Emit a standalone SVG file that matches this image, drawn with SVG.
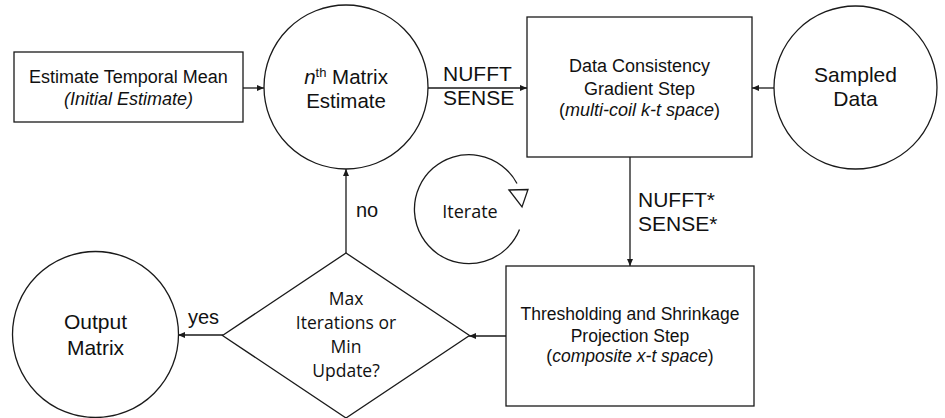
<svg xmlns="http://www.w3.org/2000/svg" width="945" height="418" viewBox="0 0 945 418">
<style>
.s{fill:#fff;stroke:#1a1a1a;stroke-width:1.3}
.c{fill:none;stroke:#1a1a1a;stroke-width:1.3}
text{font-family:"Liberation Sans",Arial,Helvetica,sans-serif;fill:#111}
.m{text-anchor:middle}
.o{font-family:"Open Sans","Noto Sans",sans-serif}
.i{font-style:italic}
</style>
<defs>
<marker id="ah" markerWidth="8" markerHeight="6" refX="7" refY="3" orient="auto" markerUnits="userSpaceOnUse">
<path d="M0,0 L7,3 L0,6 Z" fill="#1a1a1a"/>
</marker>
</defs>
<g id="connectors">
<path class="c" d="M243,88 L264,88" marker-end="url(#ah)"/>
<path class="c" d="M428,88 L527,88" marker-end="url(#ah)"/>
<path class="c" d="M774,88 L752,88" marker-end="url(#ah)"/>
<path class="c" d="M630,157 L630,266" marker-end="url(#ah)"/>
<path class="c" d="M506,336 L469,336" marker-end="url(#ah)"/>
<path class="c" d="M223,335 L178,335" marker-end="url(#ah)"/>
<path class="c" d="M346,253 L346,169" marker-end="url(#ah)"/>
<text x="443" y="81" font-size="21">NUFFT</text>
<text x="443" y="105" font-size="21">SENSE</text>
<text x="638" y="207" font-size="21">NUFFT*</text>
<text x="638" y="231" font-size="21">SENSE*</text>
<text x="356" y="217" font-size="20">no</text>
<text x="188" y="324" font-size="20">yes</text>
</g>
<g id="estimate-mean">
<rect class="s" x="14" y="52" width="229" height="70"/>
<text class="m" x="128.5" y="83" font-size="18">Estimate Temporal Mean</text>
<text class="m i" x="128.5" y="104.5" font-size="18">(Initial Estimate)</text>
</g>
<g id="nth-estimate">
<circle class="s" cx="346" cy="87" r="82"/>
<text class="m" x="346" y="83.5" font-size="20.5"><tspan class="i">n</tspan><tspan font-size="13" dy="-7">th</tspan><tspan dy="7"> Matrix</tspan></text>
<text class="m" x="346" y="108" font-size="20.5">Estimate</text>
</g>
<g id="data-consistency">
<rect class="s" x="527" y="17" width="225" height="140"/>
<text class="m" x="639.5" y="72" font-size="18">Data Consistency</text>
<text class="m" x="639.5" y="94.5" font-size="18">Gradient Step</text>
<text class="m" x="639.5" y="116" font-size="18">(<tspan class="i">multi-coil k-t space</tspan>)</text>
</g>
<g id="sampled-data">
<circle class="s" cx="855.5" cy="87.5" r="81.5"/>
<text class="m" x="855.5" y="82" font-size="21">Sampled</text>
<text class="m" x="855.5" y="106" font-size="21">Data</text>
</g>
<g id="iterate">
<path class="c" d="M517,183.5 A54.5,54.5 0 1 0 519.5,229.5"/>
<path class="c" d="M509,190 L528,189.5 L522,207 Z"/>
<text class="m o" x="470" y="218" font-size="18">Iterate</text>
</g>
<g id="thresholding">
<rect class="s" x="506" y="266" width="248" height="140"/>
<text class="m" x="630" y="320" font-size="17.5">Thresholding and Shrinkage</text>
<text class="m" x="630" y="342" font-size="17.5">Projection Step</text>
<text class="m" x="630" y="362" font-size="17.5">(<tspan class="i">composite x-t space</tspan>)</text>
</g>
<g id="decision">
<path class="s" d="M346,253 L469.5,335.5 L346,418 L222.5,335.5 Z"/>
<text class="m o" x="346" y="305" font-size="17.5">Max</text>
<text class="m o" x="346" y="329" font-size="17.5">Iterations or</text>
<text class="m o" x="346" y="353" font-size="17.5">Min</text>
<text class="m o" x="346" y="377" font-size="17.5">Update?</text>
</g>
<g id="output-matrix">
<circle class="s" cx="95.5" cy="334.5" r="83"/>
<text class="m" x="95.5" y="329" font-size="21">Output</text>
<text class="m" x="95.5" y="355" font-size="21">Matrix</text>
</g>
</svg>
